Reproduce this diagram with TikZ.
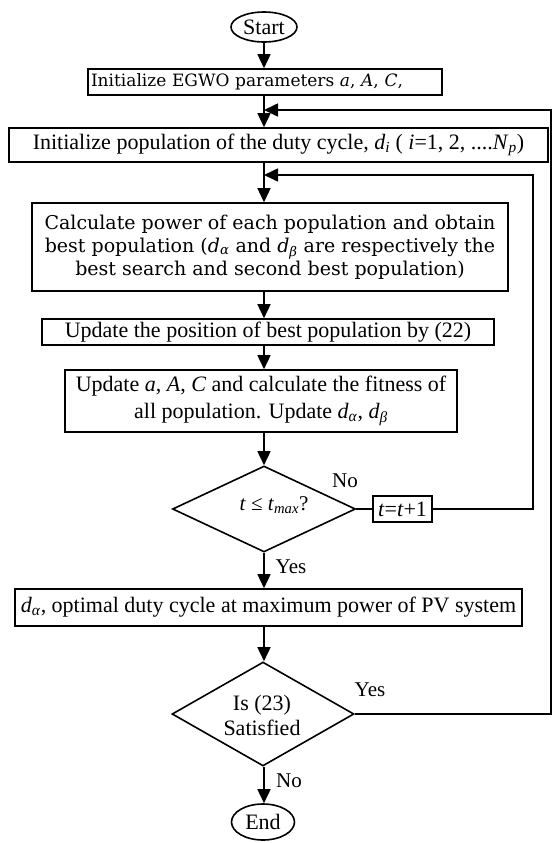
\documentclass[tikz,border=0pt]{standalone}
\usepackage{fontspec}
\usetikzlibrary{shapes.geometric,arrows.meta}
\newfontfamily\cam{Liberation Serif}
\newfontfamily\cen{DejaVu Serif}
\tikzset{
  box/.style={draw, line width=1.6pt, rectangle, inner sep=0pt, align=center},
  oval/.style={draw, line width=1.6pt, ellipse, inner sep=0pt, font=\cam\fontsize{22}{25}\selectfont},
  dia/.style={draw, line width=1.6pt, diamond, inner sep=0pt},
  ln/.style={line width=1.6pt},
  arr/.style={line width=1.6pt, -{Triangle[length=14pt,width=13pt]}},
  lbl/.style={inner sep=0pt, font=\cam\fontsize{21}{24}\selectfont},
  camf/.style={font=\cam\fontsize{22}{27}\selectfont},
  cenf/.style={font=\cen\fontsize{19}{23}\selectfont},
}
\begin{document}
\begin{tikzpicture}[x=1pt,y=-1pt]
\useasboundingbox (0,0) rectangle (553,843);
\coordinate (mx) at (264,0);
\coordinate (fb1) at (264,110);
\coordinate (fb2) at (264,175);
\coordinate (ro) at (551,0);
\coordinate (ri) at (533,0);

\node[oval, minimum width=66pt, minimum height=30pt] (start) at (264,27) {Start};
\node[box, font=\cen\fontsize{17}{20}\selectfont, minimum width=354pt, minimum height=26pt, text width=348pt, align=left] (init) at (265,82) {Initialize EGWO parameters \textit{a}, \textit{A}, \textit{C},};
\node[box, camf, minimum width=539pt, minimum height=34pt] (pop) at (278.5,145) {Initialize population of the duty cycle, \textit{d}\textsubscript{\textit{i}} ( \textit{i}=1, 2, ....\textit{N}\textsubscript{\textit{p}})};
\node[box, cenf, minimum width=476pt, minimum height=88pt] (calc) at (270,247) {Calculate power of each population and obtain\\best population (\textit{d}\textsubscript{\textit{α}} and \textit{d}\textsubscript{\textit{β}} are respectively the\\best search and second best population)};
\node[box, camf, minimum width=452pt, minimum height=26pt] (upd) at (268,332) {Update the position of best population by (22)};
\node[box, camf, minimum width=392pt, minimum height=62pt] (fit) at (261,401) {Update \textit{a}, \textit{A}, \textit{C} and calculate the fitness of\\all population. Update \textit{d}\textsubscript{\textit{α}}, \textit{d}\textsubscript{\textit{β}}};
\node[dia, minimum width=183pt, minimum height=86pt] (dec1) at (264,509) {};
\node[inner sep=0pt, font=\cam\fontsize{21}{24}\selectfont] (dec1t) at (274,505) {\textit{t} ≤ \textit{t}\textsubscript{\textit{max}}?};
\node[box, camf, minimum width=59pt, minimum height=26pt] (inc) at (402.5,509) {\textit{t}=\textit{t}+1};
\node[box, camf, minimum width=507pt, minimum height=37pt] (opt) at (268.5,607.5) {\textit{d}\textsubscript{\textit{α}}, optimal duty cycle at maximum power of PV system};
\node[dia, minimum width=182pt, minimum height=104pt] (dec2) at (263,714) {};
\node[inner sep=0pt, align=center, font=\cam\fontsize{22}{25}\selectfont] (dec2t) at (262,715) {Is (23)\\Satisfied};
\node[oval, minimum width=63pt, minimum height=36pt] (end) at (263,822) {End};

\node[lbl] (no1) at (345,481) {No};
\node[lbl] (yes1) at (291,567) {Yes};
\node[lbl] (yes2) at (370,690) {Yes};
\node[lbl] (no2) at (289,781) {No};

\draw[arr] (start.south) -- (mx |- init.north);
\draw[arr] (mx |- init.south) -- (mx |- pop.north);
\draw[arr] (mx |- pop.south) -- (mx |- calc.north);
\draw[arr] (mx |- calc.south) -- (mx |- upd.north);
\draw[arr] (mx |- upd.south) -- (mx |- fit.north);
\draw[arr] (mx |- fit.south) -- (dec1.north);
\draw[arr] (dec1.south) -- (mx |- opt.north);
\draw[arr] (mx |- opt.south) -- (mx |- dec2.north);
\draw[arr] (mx |- dec2.south) -- (mx |- end.north);
\draw[ln] (dec1.east) -- (inc.west);
\draw[arr] (inc.east) -- (inc.east -| ri) |- (fb2);
\draw[arr] (dec2.east) -- (dec2.east -| ro) |- (fb1);
\end{tikzpicture}
\end{document}
